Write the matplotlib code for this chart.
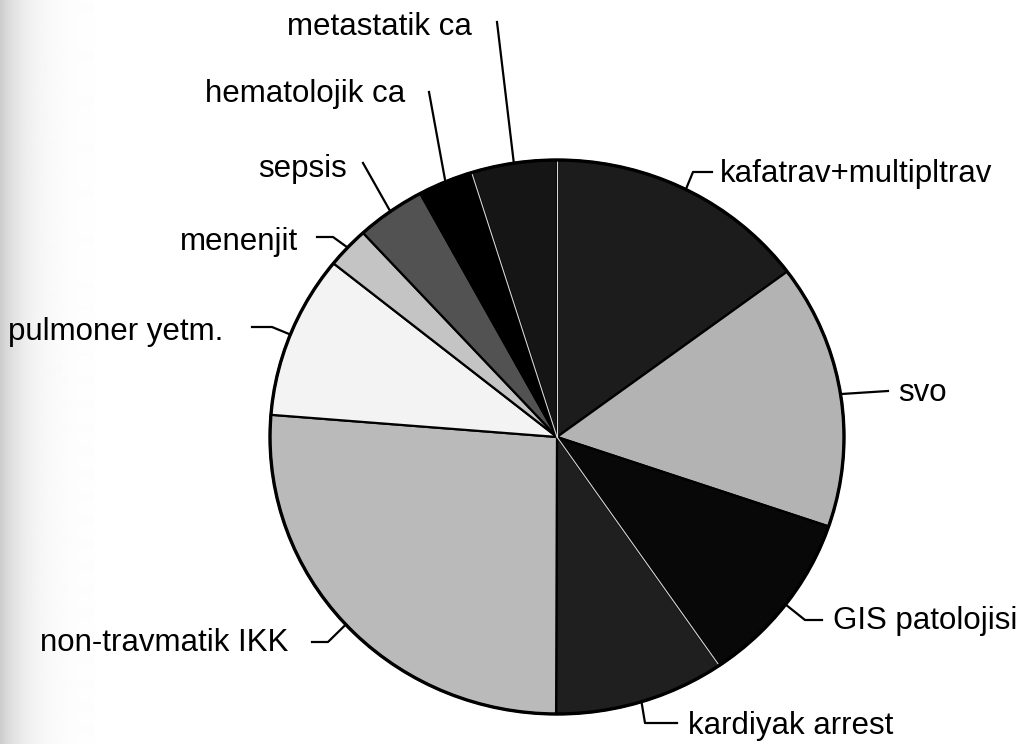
import numpy as np
import matplotlib.pyplot as plt
from matplotlib.patches import Circle

# ---- data (clockwise from 12 o'clock) ----
labels = ["kafatrav+multipltrav", "svo", "GIS patolojisi", "kardiyak arrest",
          "non-travmatik IKK", "pulmoner yetm.", "menenjit", "sepsis",
          "hematolojik ca", "metastatik ca"]
values = [14.8, 15.4, 10.2, 9.6, 26.2, 9.5, 2.4, 3.9, 3.1, 4.8]
colors = ["#1c1c1c", "#b3b3b3", "#080808", "#1f1f1f", "#bababa",
          "#f3f3f3", "#c4c4c4", "#525252", "#000000", "#151515"]

# ---- layout (pixel coordinates of the 1032x744 canvas, y from top) ----
W, H = 1032, 744
SY = 287 / 277          # the scanned pie is slightly flattened
CX, CY, R = 557, 437, 287

# text anchor (x, baseline y, ha) and leader points from rim outwards
label_pos = {
    "kafatrav+multipltrav": (720, 182, "left", [(693, 172), (712, 172)]),
    "svo": (898, 401, "left", [(888, 391)]),
    "GIS patolojisi": (833, 629, "left", [(805, 620), (822, 620)]),
    "kardiyak arrest": (688, 734, "left", [(645, 723), (677, 723)]),
    "non-travmatik IKK": (288, 651, "right", [(328, 642), (312, 642)]),
    "pulmoner yetm.": (223, 340, "right", [(272, 327), (252, 327)]),
    "menenjit": (298, 250, "right", [(333, 237), (317, 237)]),
    "sepsis": (347, 177, "right", [(363, 163)]),
    "hematolojik ca": (405, 102, "right", [(429, 92)]),
    "metastatik ca": (287, 35, "left", [(497, 22)]),
}
# slice boundaries drawn as light seams (index = boundary after that slice)
white_seams = [2, 8, 9]


def py(y):
    return (H - y) * SY


fig = plt.figure(figsize=(W / 100, H / 100), dpi=100)

# scanner shading along the left edge
bg = fig.add_axes([0, 0, 1, 1], zorder=0)
xs = np.arange(W)
shade = 1 - 0.2 * np.exp(-xs / 24)
bg.imshow(shade[None, :], extent=[0, W, 0, H], cmap="gray", vmin=0, vmax=1,
          aspect="auto", interpolation="bilinear")
bg.set_xlim(0, W)
bg.set_ylim(0, H)
bg.axis("off")

ax = fig.add_axes([0, 0, 1, 1], zorder=1)
ax.patch.set_alpha(0)
wedges, _ = ax.pie(values, colors=colors, startangle=90, counterclock=False,
                   center=(CX, py(CY)), radius=R,
                   wedgeprops=dict(edgecolor="black", linewidth=1.6))
ax.add_patch(Circle((CX, py(CY)), R, fill=False, edgecolor="black", lw=2.4, zorder=5))

# light seams between neighbouring dark slices
bounds = 90 - 360 * np.cumsum(values) / np.sum(values)
for i in white_seams:
    ang = np.deg2rad(bounds[i])
    ax.plot([CX, CX + R * np.cos(ang)], [py(CY), py(CY) + R * np.sin(ang)],
            color="#d8d8d8", lw=0.8, zorder=4)

# labels with leader lines
for w, lab in zip(wedges, labels):
    tx, ty, ha, pts = label_pos[lab]
    mid = np.deg2rad((w.theta1 + w.theta2) / 2)
    x0, y0 = CX + R * np.cos(mid), py(CY) + R * np.sin(mid)
    lx = [x0] + [p[0] for p in pts]
    ly = [y0] + [py(p[1]) for p in pts]
    ax.plot(lx, ly, color="black", lw=1.6, zorder=6)
    ax.text(tx, py(ty), lab, ha=ha, va="baseline", fontsize=22.5,
            family="Liberation Sans", color="black")

ax.set_xlim(0, W)
ax.set_ylim(0, H * SY)
ax.set_aspect("auto")
ax.axis("off")

plt.savefig("out.png", dpi=100)
